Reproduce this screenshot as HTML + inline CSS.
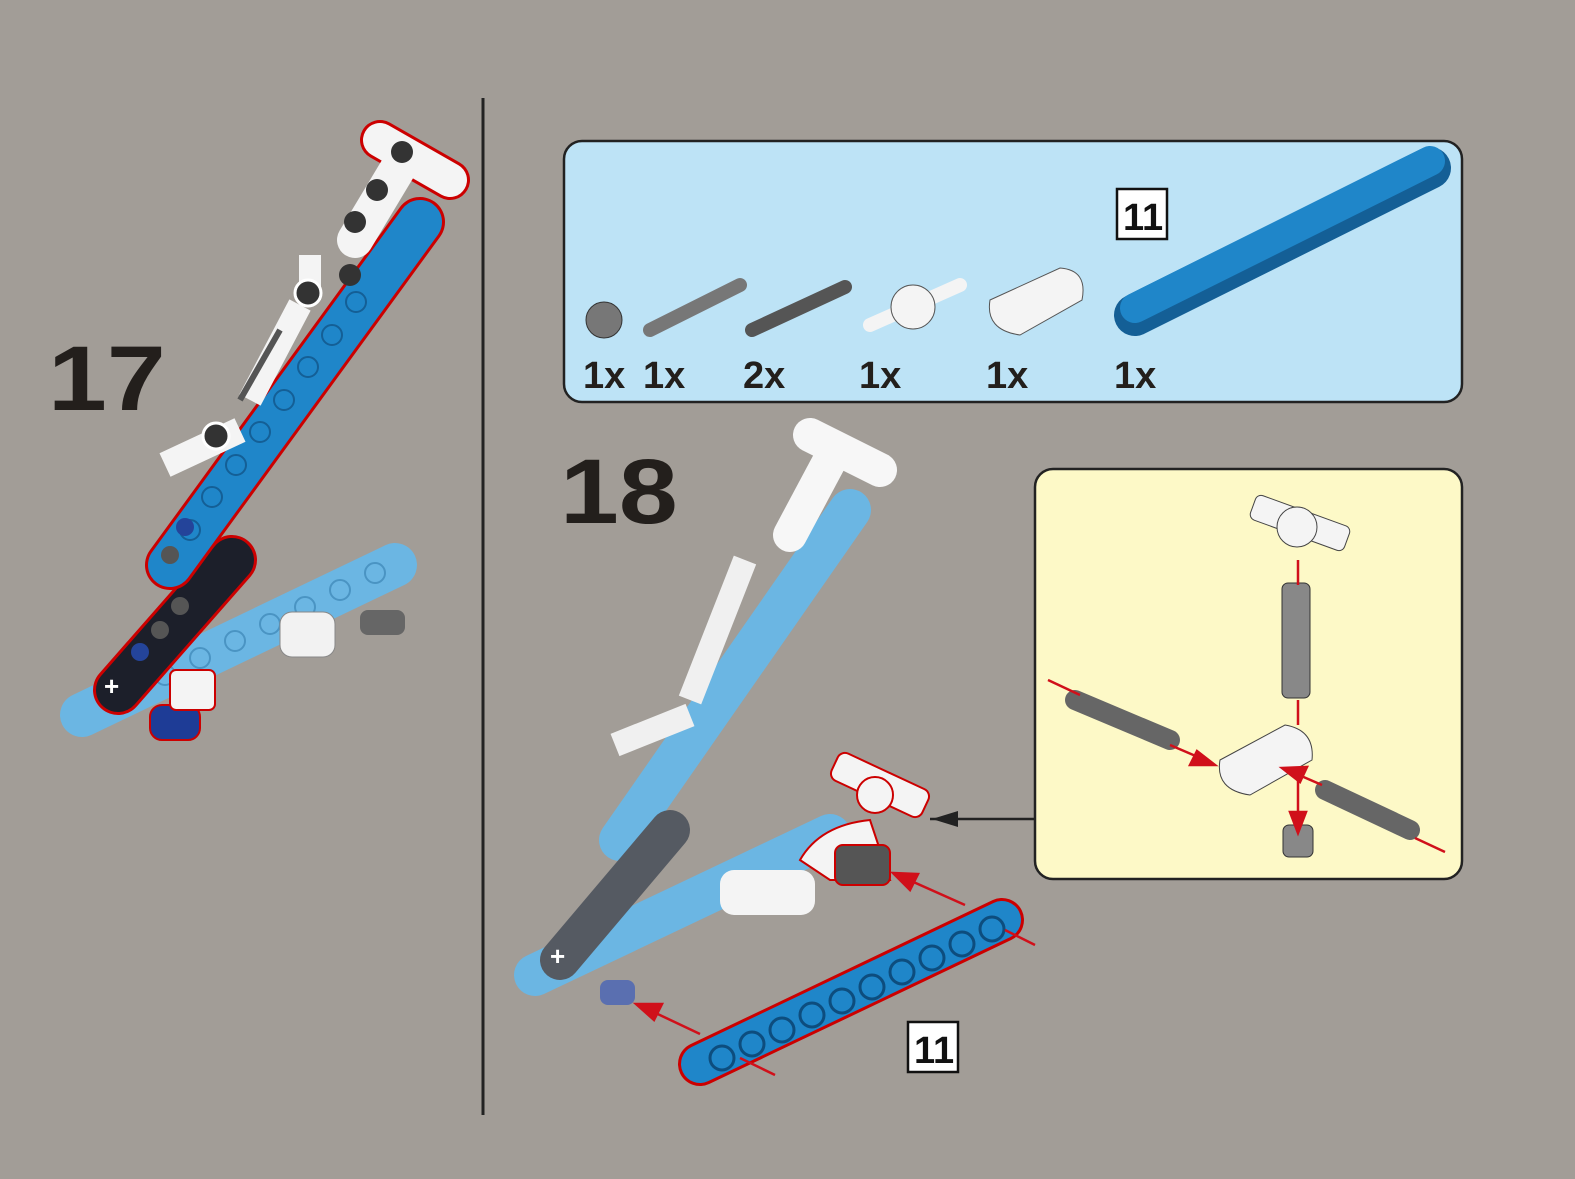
<!DOCTYPE html>
<html><head><style>
html,body{margin:0;padding:0;background:#a29d97;}
svg{display:block}
text{font-family:"Liberation Sans",sans-serif;font-weight:bold;}
</style></head><body>
<svg width="1575" height="1179" viewBox="0 0 1575 1179">
<rect width="1575" height="1179" fill="#a29d97"/>
<line x1="483" y1="98" x2="483" y2="1115" stroke="#222" stroke-width="3"/>

<!-- STEP 17 -->
<text x="48" y="410" font-size="92" fill="#231f1c" transform="translate(48 0) scale(1.15 1) translate(-48 0)">17</text>
<line x1="82" y1="715" x2="395" y2="565" stroke="#6bb6e3" stroke-width="44" stroke-linecap="round"/>
<g fill="none" stroke="#4a94c3" stroke-width="2">
<circle cx="130" cy="692" r="10"/><circle cx="165" cy="675" r="10"/><circle cx="200" cy="658" r="10"/><circle cx="235" cy="641" r="10"/><circle cx="270" cy="624" r="10"/><circle cx="305" cy="607" r="10"/><circle cx="340" cy="590" r="10"/><circle cx="375" cy="573" r="10"/>
</g>
<rect x="280" y="612" width="55" height="45" rx="12" fill="#f2f2f2" stroke="#888"/>
<rect x="360" y="610" width="45" height="25" rx="8" fill="#666"/>
<line x1="118" y1="690" x2="232" y2="560" stroke="#c00" stroke-width="50" stroke-linecap="round"/>
<line x1="118" y1="690" x2="232" y2="560" stroke="#1c1f2a" stroke-width="44" stroke-linecap="round"/>
<circle cx="140" cy="652" r="9" fill="#24449a"/><circle cx="160" cy="630" r="9" fill="#555"/><circle cx="180" cy="606" r="9" fill="#555"/>
<text x="104" y="695" font-size="26" fill="#fff">+</text>
<rect x="150" y="705" width="50" height="35" rx="12" fill="#1e3c96" stroke="#c00" stroke-width="2"/>
<rect x="170" y="670" width="45" height="40" rx="6" fill="#f4f4f4" stroke="#c00" stroke-width="2"/>
<line x1="170" y1="565" x2="420" y2="222" stroke="#c00" stroke-width="50" stroke-linecap="round"/>
<line x1="170" y1="565" x2="420" y2="222" stroke="#1f86c9" stroke-width="44" stroke-linecap="round"/>
<g fill="none" stroke="#145f96" stroke-width="2">
<circle cx="190" cy="530" r="10"/><circle cx="212" cy="497" r="10"/><circle cx="236" cy="465" r="10"/><circle cx="260" cy="432" r="10"/><circle cx="284" cy="400" r="10"/><circle cx="308" cy="367" r="10"/><circle cx="332" cy="335" r="10"/><circle cx="356" cy="302" r="10"/>
</g>
<circle cx="170" cy="555" r="9" fill="#555"/><circle cx="185" cy="527" r="9" fill="#24449a"/>
<line x1="380" y1="140" x2="450" y2="180" stroke="#c00" stroke-width="40" stroke-linecap="round"/>
<line x1="380" y1="140" x2="450" y2="180" stroke="#f4f4f4" stroke-width="34" stroke-linecap="round"/>
<line x1="400" y1="165" x2="355" y2="240" stroke="#f4f4f4" stroke-width="36" stroke-linecap="round"/>
<circle cx="402" cy="152" r="11" fill="#333"/><circle cx="377" cy="190" r="11" fill="#333"/><circle cx="355" cy="222" r="11" fill="#333"/><circle cx="350" cy="275" r="11" fill="#333"/>
<line x1="310" y1="255" x2="310" y2="300" stroke="#f4f4f4" stroke-width="22"/>
<line x1="300" y1="305" x2="250" y2="400" stroke="#f4f4f4" stroke-width="24"/>
<line x1="280" y1="330" x2="240" y2="400" stroke="#555" stroke-width="6"/>
<circle cx="308" cy="293" r="13" fill="#333" stroke="#fff" stroke-width="3"/>
<line x1="165" y1="465" x2="240" y2="430" stroke="#f4f4f4" stroke-width="26"/>
<circle cx="216" cy="436" r="13" fill="#333" stroke="#fff" stroke-width="3"/>

<!-- PARTS BOX -->
<rect x="564" y="141" width="898" height="261" rx="18" fill="#bde3f6" stroke="#222" stroke-width="2.5"/>
<g font-size="38" fill="#231f1c">
<text x="583" y="388">1x</text><text x="643" y="388">1x</text><text x="743" y="388">2x</text><text x="859" y="388">1x</text><text x="986" y="388">1x</text><text x="1114" y="388">1x</text>
</g>
<rect x="1117" y="189" width="50" height="50" fill="#fff" stroke="#111" stroke-width="2.5"/>
<text x="1123" y="230" font-size="38" fill="#111">11</text>
<circle cx="604" cy="320" r="18" fill="#777" stroke="#333"/>
<line x1="650" y1="330" x2="740" y2="285" stroke="#777" stroke-width="14" stroke-linecap="round"/>
<line x1="752" y1="330" x2="845" y2="287" stroke="#555" stroke-width="14" stroke-linecap="round"/>
<line x1="870" y1="325" x2="960" y2="285" stroke="#f4f4f4" stroke-width="14" stroke-linecap="round"/>
<circle cx="913" cy="307" r="22" fill="#f4f4f4" stroke="#555"/>
<path d="M990 300 L1060 268 Q1088 270 1082 300 L1020 335 Q985 330 990 300Z" fill="#f4f4f4" stroke="#555"/>
<line x1="1135" y1="315" x2="1430" y2="168" stroke="#145f96" stroke-width="42" stroke-linecap="round"/>
<line x1="1135" y1="308" x2="1430" y2="161" stroke="#1f86c9" stroke-width="30" stroke-linecap="round"/>

<!-- STEP 18 -->
<text x="560" y="523" font-size="92" fill="#231f1c" transform="translate(560 0) scale(1.15 1) translate(-560 0)">18</text>
<line x1="535" y1="975" x2="830" y2="835" stroke="#6bb6e3" stroke-width="42" stroke-linecap="round"/>
<line x1="620" y1="840" x2="850" y2="510" stroke="#6bb6e3" stroke-width="42" stroke-linecap="round"/>
<line x1="560" y1="960" x2="670" y2="830" stroke="#555a62" stroke-width="40" stroke-linecap="round"/>
<text x="550" y="965" font-size="26" fill="#fff">+</text>
<line x1="810" y1="435" x2="880" y2="470" stroke="#f7f7f7" stroke-width="34" stroke-linecap="round"/>
<line x1="830" y1="460" x2="790" y2="535" stroke="#f7f7f7" stroke-width="34" stroke-linecap="round"/>
<line x1="745" y1="560" x2="690" y2="700" stroke="#f0f0f0" stroke-width="24"/>
<line x1="615" y1="745" x2="690" y2="715" stroke="#f0f0f0" stroke-width="24"/>
<rect x="720" y="870" width="95" height="45" rx="14" fill="#f4f4f4"/>
<rect x="600" y="980" width="35" height="25" rx="8" fill="#5a6fb0"/>
<path d="M800 860 Q820 825 870 820 L890 880 L830 880 Z" fill="#f4f4f4" stroke="#c00" stroke-width="2"/>
<rect x="830" y="770" width="100" height="30" rx="8" fill="#f4f4f4" stroke="#c00" stroke-width="2" transform="rotate(25 880 785)"/>
<circle cx="875" cy="795" r="18" fill="#f4f4f4" stroke="#c00" stroke-width="2"/>
<rect x="835" y="845" width="55" height="40" rx="8" fill="#555" stroke="#c00" stroke-width="2"/>
<line x1="930" y1="819" x2="1035" y2="819" stroke="#222" stroke-width="2.5"/>
<polygon points="932,819 958,811 958,827" fill="#222"/>
<line x1="700" y1="1064" x2="1002" y2="920" stroke="#c00" stroke-width="44" stroke-linecap="round"/>
<line x1="700" y1="1064" x2="1002" y2="920" stroke="#1f86c9" stroke-width="38" stroke-linecap="round"/>
<g fill="none" stroke="#0d4d7e" stroke-width="3">
<circle cx="722" cy="1058" r="12"/><circle cx="752" cy="1044" r="12"/><circle cx="782" cy="1030" r="12"/><circle cx="812" cy="1015" r="12"/><circle cx="842" cy="1001" r="12"/><circle cx="872" cy="987" r="12"/><circle cx="902" cy="972" r="12"/><circle cx="932" cy="958" r="12"/><circle cx="962" cy="944" r="12"/><circle cx="992" cy="929" r="12"/>
</g>
<g stroke="#d0101a" stroke-width="2.5" fill="#d0101a">
<line x1="1035" y1="945" x2="1005" y2="930"/><line x1="775" y1="1075" x2="740" y2="1058"/>
<line x1="965" y1="905" x2="900" y2="876"/><polygon points="893,873 918,874 910,890"/>
<line x1="700" y1="1034" x2="645" y2="1008"/><polygon points="636,1004 662,1004 654,1020"/>
</g>
<rect x="908" y="1022" width="50" height="50" fill="#fff" stroke="#111" stroke-width="2.5"/>
<text x="914" y="1063" font-size="38" fill="#111">11</text>

<!-- YELLOW BOX -->
<rect x="1035" y="469" width="427" height="410" rx="18" fill="#fdf9c7" stroke="#222" stroke-width="2.5"/>
<rect x="1250" y="510" width="100" height="26" rx="6" fill="#f4f4f4" stroke="#444" transform="rotate(20 1300 523)"/>
<circle cx="1297" cy="527" r="20" fill="#f4f4f4" stroke="#444"/>
<rect x="1282" y="583" width="28" height="115" rx="6" fill="#888" stroke="#333"/>
<path d="M1220 760 L1285 725 Q1315 730 1312 760 L1250 795 Q1215 790 1220 760Z" fill="#f4f4f4" stroke="#444"/>
<rect x="1283" y="825" width="30" height="32" rx="6" fill="#888" stroke="#333"/>
<line x1="1075" y1="700" x2="1170" y2="740" stroke="#666" stroke-width="20" stroke-linecap="round"/>
<line x1="1325" y1="790" x2="1410" y2="830" stroke="#666" stroke-width="20" stroke-linecap="round"/>
<g stroke="#d0101a" stroke-width="2.5" fill="#d0101a">
<line x1="1298" y1="560" x2="1298" y2="585"/><line x1="1298" y1="700" x2="1298" y2="725"/>
<line x1="1048" y1="680" x2="1080" y2="695"/><line x1="1170" y1="745" x2="1205" y2="760"/><polygon points="1215,765 1190,765 1197,751"/>
<line x1="1445" y1="852" x2="1415" y2="838"/><line x1="1322" y1="785" x2="1292" y2="772"/><polygon points="1282,768 1307,767 1300,782"/>
<line x1="1298" y1="770" x2="1298" y2="825"/><polygon points="1298,833 1290,812 1306,812"/>
</g>
</svg>
</body></html>
